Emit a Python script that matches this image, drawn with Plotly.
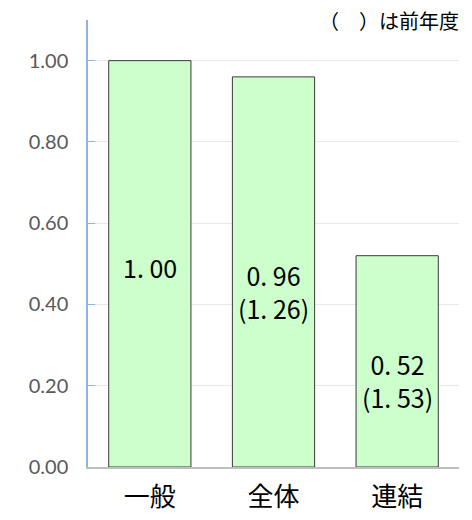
import plotly.graph_objects as go

categories = ["一般", "全体", "連結"]
values = [1.00, 0.96, 0.52]
prev_values = [None, 1.26, 1.53]
tick_vals = [0.0, 0.2, 0.4, 0.6, 0.8, 1.0]
tick_text = ["0.00", "0.20", "0.40", "0.60", "0.80", "1.00"]
note_text = "（\u3000）は前年度"

fig = go.Figure()
fig.add_trace(go.Bar(
    x=categories, y=values,
    marker=dict(color="#CCFFCC", line=dict(color="#3a3a3a", width=1)),
    hoverinfo="skip",
))

def fmt(v):
    s = f"{v:.2f}"
    return s.replace(".", ". ")

for c, v, p in zip(categories, values, prev_values):
    txt = fmt(v)
    if p is not None:
        txt += "<br>(" + fmt(p) + ")"
    fig.add_annotation(
        x=c, y=v / 2, xref="x", yref="y", text=txt, showarrow=False,
        yanchor="top", yshift=17,
        font=dict(family="Noto Sans CJK JP", size=25, color="#000000"),
    )

fig.add_annotation(
    x=1, y=1, xref="paper", yref="paper", xanchor="right", yanchor="middle",
    text=note_text, showarrow=False, xshift=2, yshift=0,
    font=dict(family="Noto Sans CJK JP", size=20, color="#000000"),
)

fig.update_layout(
    width=464, height=512,
    margin=dict(l=80, r=13, t=12, b=53),
    paper_bgcolor="white", plot_bgcolor="white",
    bargap=0.335, showlegend=False,
    xaxis=dict(
        showline=True, linecolor="#bfbfbf", linewidth=1.5,
        tickfont=dict(family="Noto Sans CJK JP", size=26, color="#000000"),
        ticks="", showgrid=False, ticklabelstandoff=6, automargin=False,
    ),
    yaxis=dict(
        range=[0, 1.1], tickvals=tick_vals, ticktext=tick_text,
        showline=True, linecolor="#8db3e2", linewidth=1.5,
        ticks="inside", ticklen=7, tickcolor="#8db3e2",
        showgrid=True, gridcolor="#e8e8e8", gridwidth=1,
        zeroline=False, automargin=False,
        tickfont=dict(family="Lato", size=20, color="#595959"),
        ticklabelstandoff=14,
    ),
)

fig.write_html("out.html")
